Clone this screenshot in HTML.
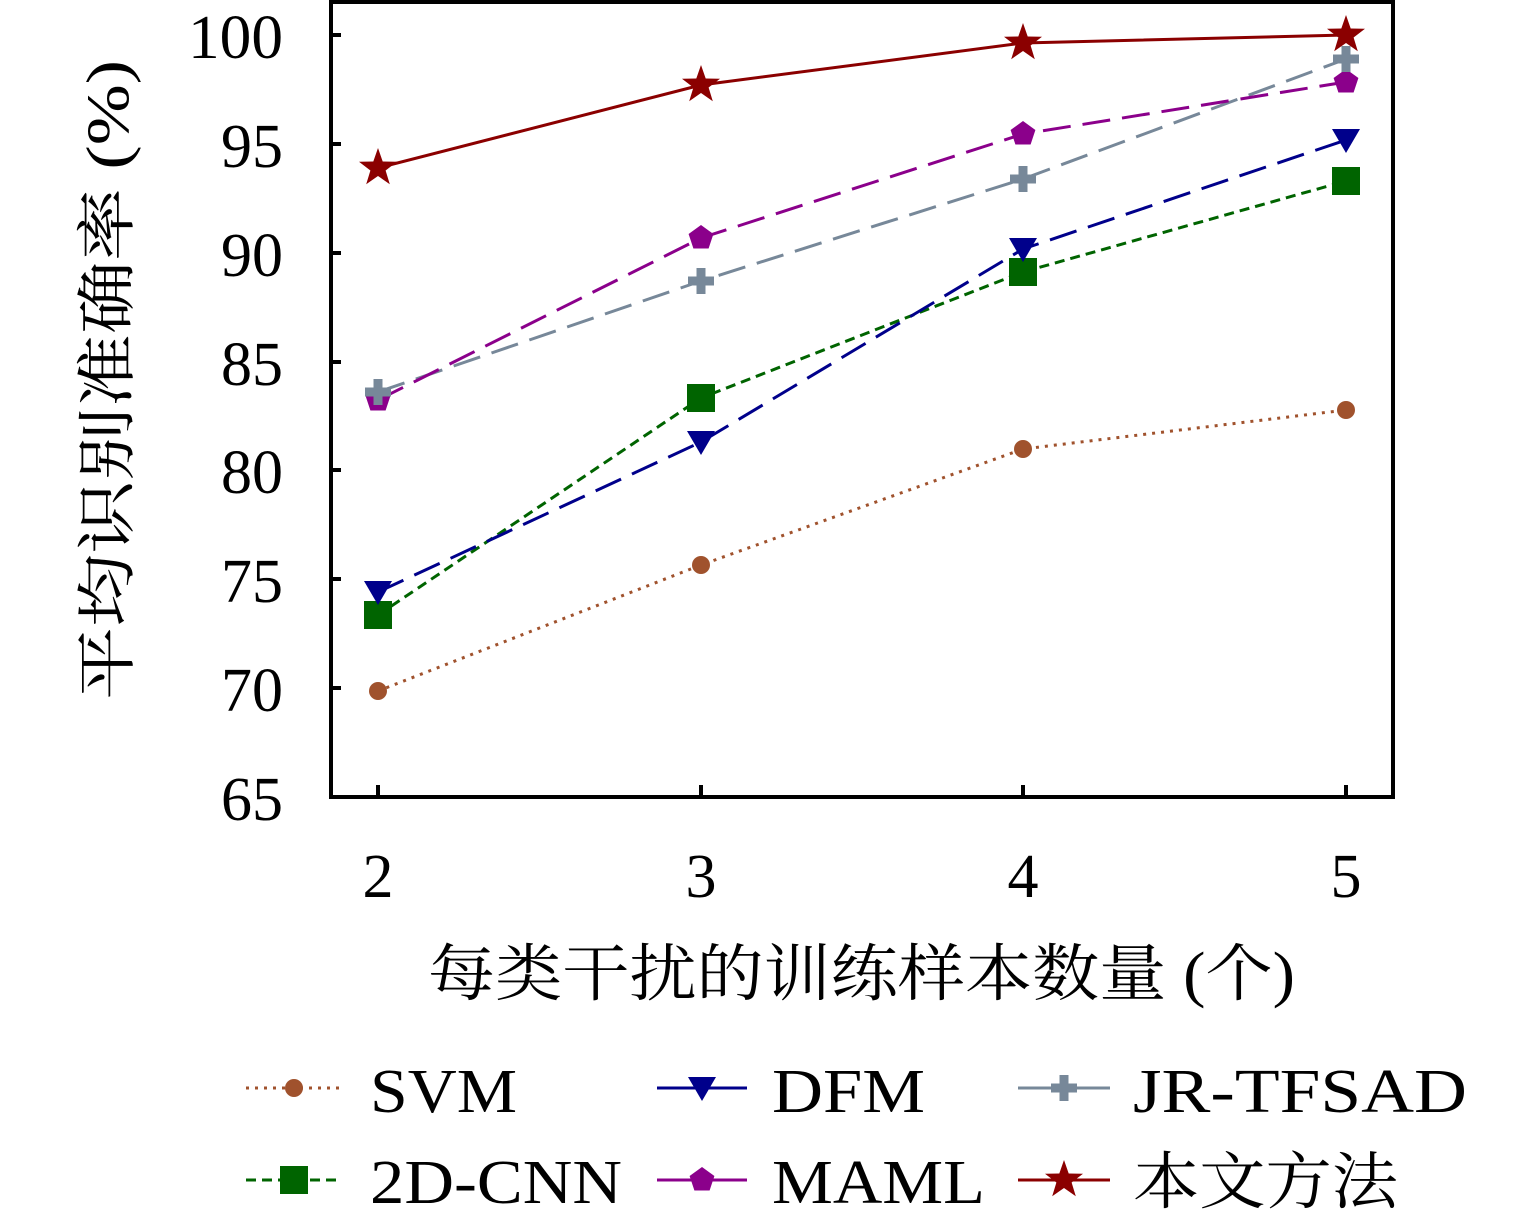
<!DOCTYPE html>
<html><head><meta charset="utf-8"><style>body{margin:0;background:#fff}</style></head><body>
<svg width="1535" height="1220" viewBox="0 0 1535 1220" xmlns="http://www.w3.org/2000/svg" font-family="'Liberation Serif','Noto Serif CJK SC',serif">
<defs>
<path id="star" d="M0,-20 L4.7,-6.5 L19,-6.2 L7.6,2.5 L11.8,16.2 L0,8 L-11.8,16.2 L-7.6,2.5 L-19,-6.2 L-4.7,-6.5Z"/>
<path id="pent" d="M0,-13 L12.4,-4 L7.6,10.5 L-7.6,10.5 L-12.4,-4Z"/>
<path id="plus" d="M-4.5,-13 H4.5 V-4.5 H13 V4.5 H4.5 V13 H-4.5 V4.5 H-13 V-4.5 H-4.5Z"/>
<path id="tri" d="M-14,-11 L14,-11 L0,13Z"/>
<rect id="sq" x="-14" y="-14" width="28" height="28"/>
<circle id="dot" r="9"/>
</defs>
<rect x="331" y="2" width="1062" height="795" fill="none" stroke="#000" stroke-width="4"/>
<g stroke="#000" stroke-width="4">
<line x1="331" y1="35" x2="341" y2="35"/><line x1="331" y1="144" x2="341" y2="144"/><line x1="331" y1="253" x2="341" y2="253"/><line x1="331" y1="362" x2="341" y2="362"/><line x1="331" y1="470" x2="341" y2="470"/><line x1="331" y1="579" x2="341" y2="579"/><line x1="331" y1="688" x2="341" y2="688"/>
<line x1="378" y1="797" x2="378" y2="785"/><line x1="701" y1="797" x2="701" y2="785"/><line x1="1023" y1="797" x2="1023" y2="785"/><line x1="1346" y1="797" x2="1346" y2="785"/>
</g>
<g font-size="62" text-anchor="end">
<text x="283" y="58" textLength="95" lengthAdjust="spacingAndGlyphs">100</text><text x="283" y="167">95</text><text x="283" y="276">90</text><text x="283" y="385">85</text><text x="283" y="493">80</text><text x="283" y="602">75</text><text x="283" y="711">70</text><text x="283" y="820">65</text>
</g>
<g font-size="62" text-anchor="middle">
<text x="378" y="897">2</text><text x="701" y="897">3</text><text x="1023" y="897">4</text><text x="1346" y="897">5</text>
</g>
<text x="428" y="995" font-size="62" textLength="867" lengthAdjust="spacingAndGlyphs">每类干扰的训练样本数量 (个)</text>
<text transform="translate(128,700) rotate(-90)" font-size="60" textLength="640" lengthAdjust="spacingAndGlyphs">平均识别准确率 (%)</text>
<!-- series -->
<polyline points="378,691 701,565 1023,449 1346,410" fill="none" stroke="#a0522d" stroke-width="3" stroke-dasharray="3,6"/>
<polyline points="378,615 701,398 1023,272 1346,181" fill="none" stroke="#006400" stroke-width="3" stroke-dasharray="10,6"/>
<polyline points="378,592 701,442 1023,249 1346,140" fill="none" stroke="#00008b" stroke-width="3" stroke-dasharray="28,12"/>
<polyline points="378,392 701,281 1023,179 1346,59" fill="none" stroke="#778899" stroke-width="3" stroke-dasharray="28,12"/>
<polyline points="378,400 701,238 1023,134 1346,82" fill="none" stroke="#8b008b" stroke-width="3" stroke-dasharray="28,12"/>
<polyline points="378,168 701,85 1023,43 1346,35" fill="none" stroke="#8b0000" stroke-width="3"/>
<g fill="#a0522d"><use href="#dot" x="378" y="691"/><use href="#dot" x="701" y="565"/><use href="#dot" x="1023" y="449"/><use href="#dot" x="1346" y="410"/></g>
<g fill="#006400"><use href="#sq" x="378" y="615"/><use href="#sq" x="701" y="398"/><use href="#sq" x="1023" y="272"/><use href="#sq" x="1346" y="181"/></g>
<g fill="#00008b"><use href="#tri" x="378" y="592"/><use href="#tri" x="701" y="442"/><use href="#tri" x="1023" y="249"/><use href="#tri" x="1346" y="140"/></g>
<g fill="#8b008b"><use href="#pent" x="378" y="400"/><use href="#pent" x="701" y="238"/><use href="#pent" x="1023" y="134"/><use href="#pent" x="1346" y="82"/></g>
<g fill="#778899"><use href="#plus" x="378" y="392"/><use href="#plus" x="701" y="281"/><use href="#plus" x="1023" y="179"/><use href="#plus" x="1346" y="59"/></g>
<g fill="#8b0000"><use href="#star" x="378" y="168"/><use href="#star" x="701" y="85"/><use href="#star" x="1023" y="43"/><use href="#star" x="1346" y="35"/></g>
<!-- legend -->
<line x1="246" y1="1088" x2="342" y2="1088" stroke="#a0522d" stroke-width="3" stroke-dasharray="3,6"/><use href="#dot" x="294" y="1088" fill="#a0522d"/>
<line x1="246" y1="1180" x2="342" y2="1180" stroke="#006400" stroke-width="3" stroke-dasharray="10,6"/><use href="#sq" x="294" y="1180" fill="#006400"/>
<line x1="657" y1="1088" x2="747" y2="1088" stroke="#00008b" stroke-width="3"/><use href="#tri" x="702" y="1088" fill="#00008b"/>
<line x1="657" y1="1180" x2="747" y2="1180" stroke="#8b008b" stroke-width="3"/><use href="#pent" x="702" y="1180" fill="#8b008b"/>
<line x1="1018" y1="1088" x2="1110" y2="1088" stroke="#778899" stroke-width="3"/><use href="#plus" x="1064" y="1088" fill="#778899"/>
<line x1="1018" y1="1180" x2="1110" y2="1180" stroke="#8b0000" stroke-width="3"/><use href="#star" x="1064" y="1180" fill="#8b0000"/>
<g font-size="62" lengthAdjust="spacingAndGlyphs">
<text x="370" y="1112" textLength="147" lengthAdjust="spacingAndGlyphs">SVM</text><text x="370" y="1203" textLength="252" lengthAdjust="spacingAndGlyphs">2D-CNN</text>
<text x="772" y="1112" textLength="153" lengthAdjust="spacingAndGlyphs">DFM</text><text x="772" y="1203" textLength="213" lengthAdjust="spacingAndGlyphs">MAML</text>
<text x="1133" y="1112" textLength="334" lengthAdjust="spacingAndGlyphs">JR-TFSAD</text><text x="1133" y="1203" textLength="265" lengthAdjust="spacingAndGlyphs">本文方法</text>
</g>
</svg>
</body></html>
